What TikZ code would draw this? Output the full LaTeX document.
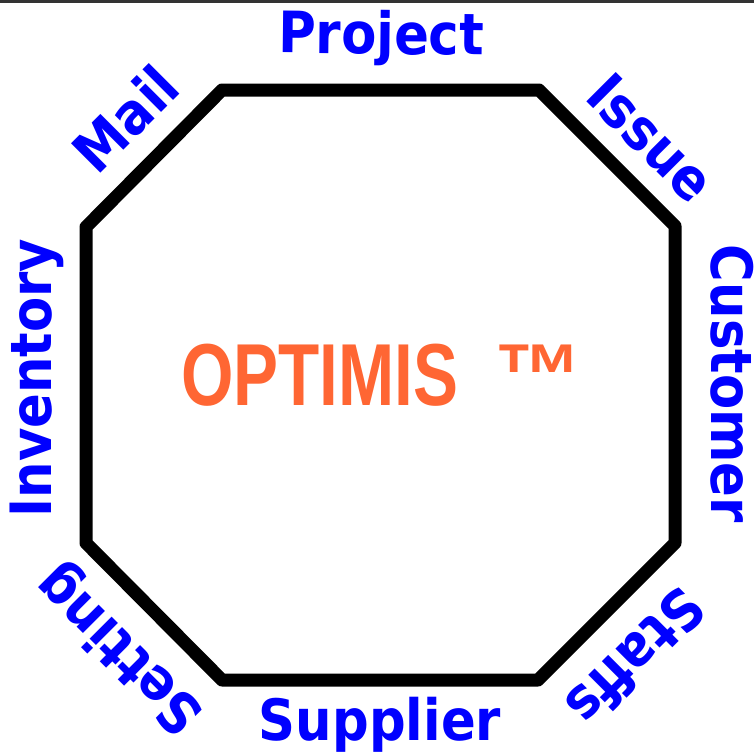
\documentclass[tikz,border=0pt]{standalone}
\usepackage{fontspec}
\newfontfamily\labfont{DejaVu Sans Bold}[FakeStretch=0.9]
\newfontfamily\logofont{Liberation Sans Bold}[FakeStretch=0.766]
\newfontfamily\tmfont{Liberation Sans Bold}
\definecolor{labblue}{HTML}{0000FF}
\definecolor{logoorange}{HTML}{FF6633}
\definecolor{topgray}{HTML}{333333}
\begin{document}
\begin{tikzpicture}[x=1pt,y=-1pt,
  lab/.style={text=labblue,font=\labfont\fontsize{57}{60}\selectfont,inner sep=0pt,anchor=base},
  logo/.style={text=logoorange,font=\logofont\fontsize{88}{90}\selectfont,inner sep=0pt,anchor=base west},
  oct/.style={draw=black,line width=13pt,line join=round}]
\useasboundingbox (0,0) rectangle (754,753);
\fill[white] (0,0) rectangle (754,753);
\fill[topgray] (0,0) rectangle (754,2.5);
\coordinate (v1) at (222,90);
\coordinate (v2) at (539,90);
\coordinate (v3) at (675,226);
\coordinate (v4) at (675,543);
\coordinate (v5) at (538,680);
\coordinate (v6) at (222,680);
\coordinate (v7) at (86,543);
\coordinate (v8) at (86,227);
\draw[oct] (v1) -- (v2) -- (v3) -- (v4) -- (v5) -- (v6) -- (v7) -- (v8) -- cycle;
\node[logo] (logo) at (181,405) {OPTIMIS\hspace{36pt}{\tmfont ™}};
\node[lab,rotate=-0.6] (project) at (381,54) {Project};
\node[lab] (supplier) at (380,740) {Supplier};
\node[lab,rotate=-90] (customer) at (711,384) {Customer};
\node[lab,rotate=90] (inventory) at (51,378) {Inventory};
\node[lab,rotate=45] (mail) at (140.5,133.5) {Mail};
\node[lab,rotate=-45] (issue) at (637,152.5) {Issue};
\node[lab,rotate=225] (staffs) at (621,643) {Staffs};
\node[lab,rotate=135] (setting) at (132,637) {Setting};
\end{tikzpicture}
\end{document}
